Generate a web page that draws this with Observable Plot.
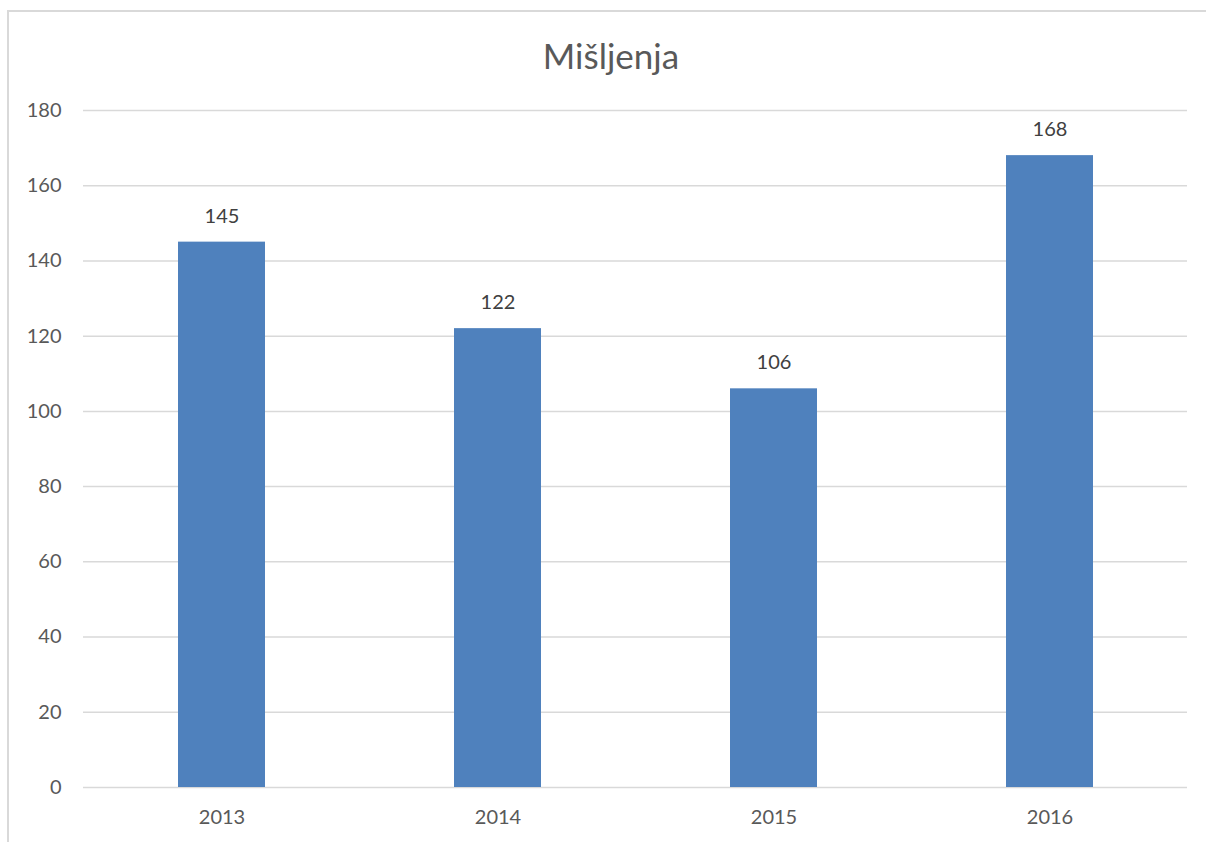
<!DOCTYPE html>
<html>
<head>
<meta charset="utf-8">
<script src="https://cdn.jsdelivr.net/npm/d3@7"></script>
<script src="https://cdn.jsdelivr.net/npm/@observablehq/plot@0.6"></script>
<style>
  html, body { margin: 0; padding: 0; background: #fff; }
  body { width: 1206px; height: 842px; position: relative; overflow: hidden; font-family: Lato, "Open Sans", sans-serif; }
  #frame { position: absolute; left: 7px; top: 10px; width: 1300px; height: 900px; border-left: 2px solid #d9d9d9; border-top: 2px solid #d9d9d9; box-sizing: border-box; }
  #title { position: absolute; left: 0; width: 1222px; top: 35px; text-align: center; font-size: 35px; color: #595959; line-height: 40px; }
  #chart { position: absolute; left: 0; top: 0; }
</style>
</head>
<body>
<div id="frame"></div>
<div id="chart"></div>
<div id="title">Mišljenja</div>
<script>
const years = ["2013", "2014", "2015", "2016"];
const values = [145, 122, 106, 168];
const yTicks = [0, 20, 40, 60, 80, 100, 120, 140, 160, 180];

const data = years.map((y, i) => ({year: y, value: values[i]}));

const chart = Plot.plot({
  width: 1206,
  height: 842,
  marginLeft: 83,
  marginRight: 19,
  marginTop: 110,
  marginBottom: 55,
  style: {background: "transparent", fontFamily: "Lato, 'Open Sans', sans-serif", fontSize: "20px", color: "#595959"},
  x: {domain: years, paddingInner: 0.685, paddingOuter: 0.3425, label: null},
  y: {domain: [0, 180], ticks: yTicks, label: null},
  marks: [
    Plot.gridY(yTicks, {stroke: "#d9d9d9", strokeOpacity: 1, strokeWidth: 1.5}),
    Plot.barY(data, {x: "year", y: "value", fill: "#4f81bd"}),
    Plot.text(data, {x: "year", y: "value", text: d => String(d.value), dy: -26, fill: "#404040", fontSize: 20}),
    Plot.axisY(yTicks, {tickSize: 0, tickPadding: 22, fill: "#595959", fontSize: 20}),
    Plot.axisX({tickSize: 0, tickPadding: 22, fill: "#595959", fontSize: 20})
  ]
});
document.getElementById("chart").appendChild(chart);
</script>
</body>
</html>
